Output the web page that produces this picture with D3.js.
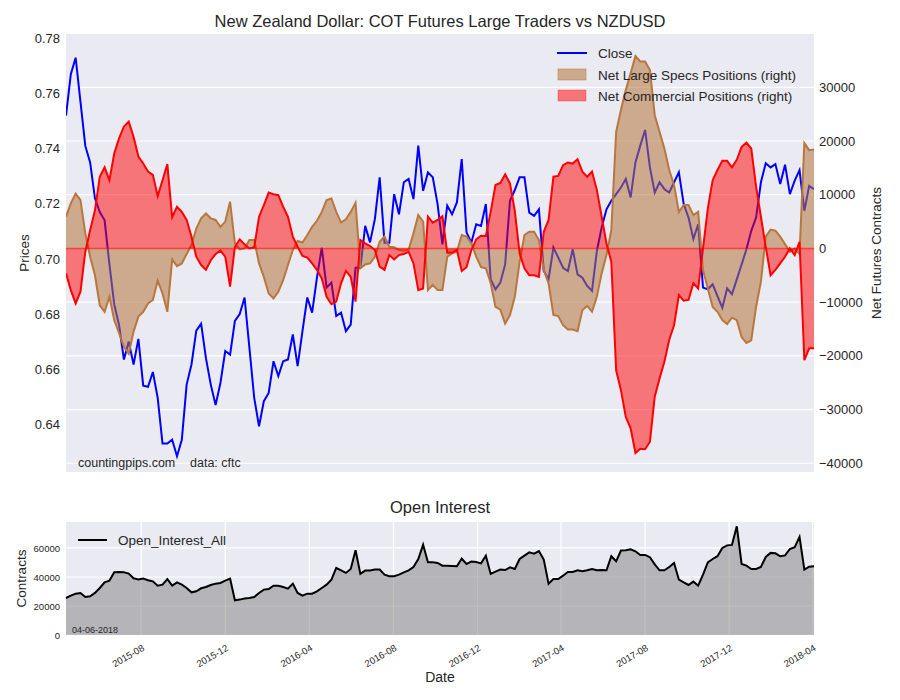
<!DOCTYPE html>
<html><head><meta charset="utf-8">
<script src="https://cdn.jsdelivr.net/npm/d3@7"></script>
<style>
body{margin:0;background:#fff;}
text{font-family:"Liberation Sans",Arial,sans-serif;fill:#262626;}
</style></head>
<body><svg id="c" width="900" height="700"></svg>
<script>
const startDate = "2015-04-14";
const numWeeks = 156;
const price = [0.752,0.767,0.773,0.757,0.741,0.735,0.722,0.717,0.714,0.698,0.6835,0.676,0.6635,0.670,0.6617,0.671,0.654,0.6536,0.659,0.6496,
0.633,0.633,0.6344,0.6284,0.6344,0.6544,0.6617,0.674,0.6765,0.664,0.6544,0.647,0.655,0.6666,0.6653,0.6775,0.680,0.686,0.6678,0.6496,
0.6393,0.6484,0.6514,0.6629,0.6575,0.6629,0.6635,0.6726,0.6611,0.6738,0.686,0.6805,0.6932,0.7041,0.6896,0.6914,0.6793,0.6805,0.6738,0.6762,
0.6968,0.6968,0.712,0.706,0.7144,0.7296,0.7059,0.7059,0.7235,0.7162,0.7278,0.729,0.7217,0.7411,0.7247,0.7314,0.7296,0.7199,0.7053,0.7193,
0.7162,0.7205,0.7362,0.7096,0.7059,0.7126,0.712,0.7199,0.6926,0.689,0.6914,0.698,0.7211,0.725,0.7296,0.7296,0.7168,0.7156,0.718,0.6956,
0.6926,0.7041,0.7005,0.6968,0.6956,0.7035,0.6944,0.6932,0.6902,0.6884,0.7029,0.7114,0.718,0.7211,0.7235,0.7259,0.729,0.7223,0.735,0.7411,
0.7468,0.7332,0.7241,0.7278,0.7253,0.7241,0.7278,0.7314,0.7199,0.715,0.7072,0.7126,0.6896,0.689,0.6908,0.6865,0.6823,0.6893,0.6872,0.6926,
0.698,0.7035,0.7102,0.715,0.7278,0.7347,0.7332,0.7344,0.7272,0.7342,0.7235,0.7284,0.7322,0.7175,0.7265,0.7253];
const specs = [5900,8400,10200,9000,2800,-1550,-5000,-10600,-11800,-9000,-13350,-15800,-18300,-19600,-15500,-12700,-11800,-10250,-9600,-6000,
-8400,-11800,-2050,-3300,-2800,-1050,620,3700,5600,6500,5600,5300,4000,5000,8700,930,-190,0,1550,1550,
-2800,-5300,-8400,-9300,-8070,-5900,-3100,-300,1370,1100,2500,4000,5150,6800,9000,9300,6800,4800,5400,6800,
8500,-3700,-3000,-2800,-1550,1240,2200,300,200,-300,-430,-190,2800,6200,5000,-7760,-6800,-7760,-7760,-1550,
-930,-620,2500,2200,930,-1550,-3500,-3700,-6500,-10900,-11400,-14000,-12400,-9000,-2500,2500,3100,3100,1550,-4000,
-6500,-12400,-12600,-14300,-15100,-15100,-15400,-11500,-10700,-11800,-9000,-4650,-1240,3400,21700,25800,29500,32600,35800,34800,
34800,33200,24800,21700,18600,14600,11800,6800,8070,8070,6200,6800,-4000,-7450,-10900,-11800,-13350,-14100,-12900,-13350,
-16500,-17600,-17100,-10900,-6200,2200,3500,3300,2200,800,-620,0,-1050,19600,18300,18400];
const comm = [-4650,-7760,-10250,-8070,-620,3400,7100,13350,15100,12700,17700,20500,22700,23600,20800,17100,15800,14300,13700,9750,
12700,15700,5800,7760,6800,5300,2200,-1550,-3100,-4000,-2200,-1050,-430,-1550,-7100,300,1700,750,0,200,
5900,8070,10400,10100,9900,7760,5900,2200,300,-1400,-1700,-2800,-4000,-5600,-9000,-10400,-9900,-6500,-4200,-5300,
-9900,1550,930,430,-300,-3400,-4000,-1240,-2050,-1240,-1050,-620,-2800,-7760,-7450,5900,4800,5300,6000,-800,
-800,-300,-4200,-3500,-300,1700,2360,2300,6800,11800,12200,13800,12100,7000,-930,-3700,-5000,-5000,-5300,3100,
5300,13350,13500,15500,16000,15800,16600,14300,13350,14300,10900,5900,930,-2500,-22700,-26400,-31400,-33500,-38100,-37300,
-37400,-36000,-27600,-24200,-21100,-17000,-14300,-8700,-9750,-9600,-6500,-7450,0,7450,12700,14600,16300,16300,15100,16500,
18900,19700,18600,11500,5900,300,-5000,-4000,-2800,-1550,0,-1240,1240,-20800,-18600,-18600];
const openInterest = [25500,27100,28500,29000,26200,26700,29000,32400,36300,37500,43200,43400,43200,42300,39100,38200,38900,37700,37000,34000,
34700,38600,34000,36300,34700,32400,29400,30100,32200,33100,34500,35400,35900,37500,38900,23900,24400,25100,25500,26200,
29000,31300,31700,34000,34000,33100,32000,35400,29000,27100,28500,28500,30100,32400,34700,38200,46200,44600,42800,45500,
58400,42100,44400,44400,45100,45100,41600,40500,40500,41600,43200,44600,46900,52400,62300,50100,50100,49700,47800,47800,
47600,47400,52600,49000,50600,50300,49400,54700,42100,43700,45100,44800,46700,45500,52400,54700,57000,56100,57900,52000,
35400,38600,38600,40900,43500,43500,44600,43900,44600,45500,44600,44800,44600,54300,50800,58200,58400,59100,57700,55200,
55200,53600,48700,44600,44600,46900,49700,38200,36300,34500,36800,34000,41600,50100,52400,54300,60000,61800,62100,74900,
49000,47800,45500,45500,46900,53800,56600,56300,54300,54900,59300,60500,67600,45100,47100,47400];
const priceTicks = [0.64,0.66,0.68,0.70,0.72,0.74,0.76,0.78];
const netTicks = [-40000,-30000,-20000,-10000,0,10000,20000,30000];
const oiTicks = [0,20000,40000,60000];
const monthTicks = ["2015-08","2015-12","2016-04","2016-08","2016-12","2017-04","2017-08","2017-12","2018-04"];

const parse = d3.timeParse("%Y-%m-%d");
const t0 = parse(startDate);
const dates = d3.range(numWeeks).map(k => d3.timeDay.offset(t0, 7*k));
const mParse = d3.timeParse("%Y-%m");
const tickDates = monthTicks.map(mParse);

const svg = d3.select("#c");
const L = 66, R = 814, T1 = 34, B1 = 472, T2 = 522, B2 = 635;
const BG = "#eaeaf2";

const x = d3.scaleTime().domain([dates[0], dates[numWeeks-1]]).range([L, R]);
const yP = d3.scaleLinear().domain([0.6227, 0.7816]).range([B1, T1]);
const yN = d3.scaleLinear().domain([-41630, 39920]).range([B1, T1]);
const yO = d3.scaleLinear().domain([0, 77900]).range([B2, T2]);

// top panel
svg.append("rect").attr("x", L).attr("y", T1).attr("width", R-L).attr("height", B1-T1).attr("fill", BG);
svg.append("g").selectAll("line").data(netTicks).join("line")
  .attr("x1", L).attr("x2", R).attr("y1", d => yN(d)).attr("y2", d => yN(d))
  .attr("stroke", "#fff").attr("stroke-width", 1.2);

const clip = svg.append("clipPath").attr("id", "cp1").append("rect")
  .attr("x", L).attr("y", T1).attr("width", R-L).attr("height", B1-T1);
const g1 = svg.append("g").attr("clip-path", "url(#cp1)");

g1.append("path").datum(price)
  .attr("d", d3.line().x((d,i) => x(dates[i])).y(d => yP(d)))
  .attr("fill", "none").attr("stroke", "#0000ff").attr("stroke-width", 2);

const area = d3.area().x((d,i) => x(dates[i])).y0(yN(0)).y1(d => yN(d));
const line = d3.line().x((d,i) => x(dates[i])).y(d => yN(d));
const brownLine = "#b8773e", brownFill = "#b5743a";
g1.append("path").datum(specs).attr("d", area).attr("fill", brownFill).attr("fill-opacity", 0.55);
g1.append("path").datum(specs).attr("d", line).attr("fill", "none").attr("stroke", brownLine).attr("stroke-width", 2);
g1.append("path").datum(comm).attr("d", area).attr("fill", "#ff0000").attr("fill-opacity", 0.5);
g1.append("path").datum(comm).attr("d", line).attr("fill", "none").attr("stroke", "#ff0000").attr("stroke-width", 2);
g1.append("line").attr("x1", L).attr("x2", R).attr("y1", yN(0)).attr("y2", yN(0))
  .attr("stroke", "#ff0000").attr("stroke-opacity", 0.6).attr("stroke-width", 1.5);

// axes top
const axL = svg.append("g").attr("transform", `translate(${L},0)`)
  .call(d3.axisLeft(yP).tickValues(priceTicks).tickFormat(d3.format(".2f")).tickSize(0).tickPadding(6));
const axR = svg.append("g").attr("transform", `translate(${R},0)`)
  .call(d3.axisRight(yN).tickValues(netTicks).tickFormat(d => d < 0 ? "\u2212" + Math.abs(d) : String(d)).tickSize(0).tickPadding(5));
[axL, axR].forEach(a => { a.select(".domain").remove(); a.selectAll("text").attr("font-size", 13).attr("fill", "#262626").attr("font-family", "Liberation Sans, Arial, sans-serif"); });

svg.append("text").attr("x", (L+R)/2).attr("y", 27).attr("text-anchor", "middle").attr("font-size", 16.5)
  .text("New Zealand Dollar: COT Futures Large Traders vs NZDUSD");
svg.append("text").attr("transform", `translate(29,${(T1+B1)/2}) rotate(-90)`).attr("text-anchor", "middle").attr("font-size", 13.5).text("Prices");
svg.append("text").attr("transform", `translate(881,${(T1+B1)/2}) rotate(-90)`).attr("text-anchor", "middle").attr("font-size", 13.5).text("Net Futures Contracts");

// legend top
const lg = svg.append("g");
lg.append("line").attr("x1", 557).attr("x2", 587).attr("y1", 53).attr("y2", 53).attr("stroke", "#0000ff").attr("stroke-width", 2);
lg.append("rect").attr("x", 558).attr("y", 69).attr("width", 28).attr("height", 11).attr("fill", brownFill).attr("fill-opacity", 0.55).attr("stroke", brownLine).attr("stroke-opacity", 0.5).attr("stroke-width", 1);
lg.append("rect").attr("x", 558).attr("y", 90).attr("width", 28).attr("height", 11).attr("fill", "#ff0000").attr("fill-opacity", 0.5).attr("stroke", "#ff0000").attr("stroke-opacity", 0.3).attr("stroke-width", 1);
const legTexts = ["Close", "Net Large Specs Positions (right)", "Net Commercial Positions (right)"];
lg.selectAll("text.l").data(legTexts).join("text").attr("class", "l")
  .attr("x", 598).attr("y", (d,i) => 58 + i*21.5).attr("font-size", 13.5).text(d => d);

svg.append("text").attr("x", 78).attr("y", 467).attr("font-size", 12.5).text("countingpips.com");
svg.append("text").attr("x", 190).attr("y", 467).attr("font-size", 12.5).attr("stroke", "#fff").attr("stroke-width", 0.6).attr("paint-order", "stroke").text("data: cftc");

// bottom panel
svg.append("rect").attr("x", L).attr("y", T2).attr("width", R-L).attr("height", B2-T2).attr("fill", BG);
svg.append("g").selectAll("line").data(oiTicks).join("line")
  .attr("x1", L).attr("x2", R).attr("y1", d => yO(d)).attr("y2", d => yO(d)).attr("stroke", "#fff").attr("stroke-width", 1.2);
svg.append("g").selectAll("line").data(tickDates).join("line")
  .attr("x1", d => x(d)).attr("x2", d => x(d)).attr("y1", T2).attr("y2", B2).attr("stroke", "#fff").attr("stroke-width", 1.2);
svg.append("path").datum(openInterest)
  .attr("d", d3.area().x((d,i) => x(dates[i])).y0(yO(0)).y1(d => yO(d)))
  .attr("fill", "#808080").attr("fill-opacity", 0.5);
svg.append("path").datum(openInterest)
  .attr("d", d3.line().x((d,i) => x(dates[i])).y(d => yO(d)))
  .attr("fill", "none").attr("stroke", "#000").attr("stroke-width", 2);

const axO = svg.append("g").attr("transform", `translate(${L},0)`)
  .call(d3.axisLeft(yO).tickValues(oiTicks).tickFormat(d3.format("d")).tickSize(0).tickPadding(6));
axO.select(".domain").remove();
axO.selectAll("text").attr("font-size", 9.5).attr("fill", "#262626").attr("font-family", "Liberation Sans, Arial, sans-serif");

svg.append("g").selectAll("text").data(tickDates).join("text")
  .attr("transform", d => `translate(${x(d)+1},${645}) rotate(-30)`)
  .attr("text-anchor", "end").attr("dy", "0.6em").attr("font-size", 9.5)
  .text((d,i) => monthTicks[i]);

svg.append("text").attr("x", (L+R)/2).attr("y", 513).attr("text-anchor", "middle").attr("font-size", 16.5).text("Open Interest");
svg.append("text").attr("transform", `translate(26,${(T2+B2)/2}) rotate(-90)`).attr("text-anchor", "middle").attr("font-size", 13.5).text("Contracts");
svg.append("text").attr("x", (L+R)/2).attr("y", 682).attr("text-anchor", "middle").attr("font-size", 14).text("Date");

svg.append("line").attr("x1", 78).attr("x2", 107).attr("y1", 540).attr("y2", 540).attr("stroke", "#000").attr("stroke-width", 2);
svg.append("text").attr("x", 118).attr("y", 545).attr("font-size", 13.5).text("Open_Interest_All");
svg.append("text").attr("x", 72).attr("y", 633).attr("font-size", 9).text("04-06-2018");
</script></body></html>
